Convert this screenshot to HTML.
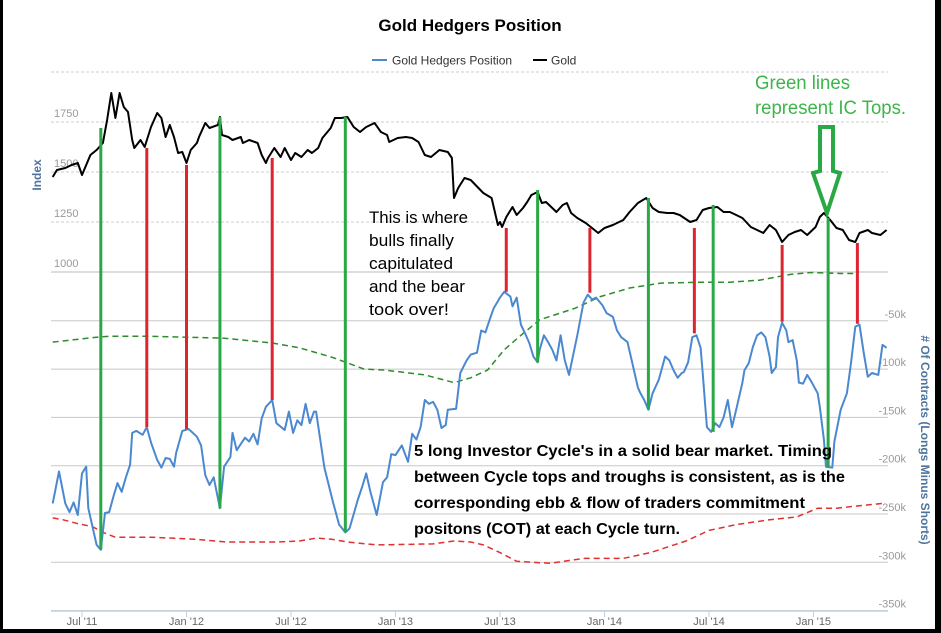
<!DOCTYPE html>
<html><head><meta charset="utf-8">
<style>
html,body{margin:0;padding:0;background:#fff;}
body{width:941px;height:633px;overflow:hidden;position:relative;font-family:"Liberation Sans",sans-serif;}
svg{position:absolute;left:0;top:0;}
</style></head>
<body>
<svg id="chart" width="941" height="633" viewBox="0 0 941 633" xmlns="http://www.w3.org/2000/svg">
  <rect x="0" y="0" width="941" height="633" fill="#fff"/>
  <text x="470" y="31" text-anchor="middle" font-size="17" font-weight="bold" fill="#000">Gold Hedgers Position</text>
  <g>
    <g>
      <line x1="372" y1="60" x2="387" y2="60" stroke="#4a88d0" stroke-width="2"/>
      <text x="392" y="64.5" font-size="12" fill="#333">Gold Hedgers Position</text>
    </g>
    <g>
      <line x1="533" y1="60" x2="547" y2="60" stroke="#000" stroke-width="2"/>
      <text x="551" y="64.5" font-size="12" fill="#333">Gold</text>
    </g>
  </g>
  <g id="grid"></g>
  <g id="axes"></g>
  <g id="series"></g>
  <g id="annot"></g>
  <text transform="translate(41,175) rotate(-90)" text-anchor="middle" font-size="12" font-weight="bold" fill="#4d759e">Index</text>
  <text transform="translate(921,440) rotate(90)" text-anchor="middle" font-size="12" font-weight="bold" fill="#4d759e"># Of Contracts (Longs Minus Shorts)</text>
  <g font-size="17" fill="#000">
    <text x="369" y="223" textLength="99" lengthAdjust="spacingAndGlyphs">This is where</text>
    <text x="369" y="246" textLength="85" lengthAdjust="spacingAndGlyphs">bulls finally</text>
    <text x="369" y="269" textLength="84" lengthAdjust="spacingAndGlyphs">capitulated</text>
    <text x="369" y="292" textLength="96" lengthAdjust="spacingAndGlyphs">and the bear</text>
    <text x="369" y="315" textLength="80" lengthAdjust="spacingAndGlyphs">took over!</text>
  </g>
  <g font-size="16" font-weight="bold" fill="#000">
    <text x="414" y="456" textLength="418" lengthAdjust="spacingAndGlyphs">5 long Investor Cycle's in a solid bear market.  Timing</text>
    <text x="414" y="482" textLength="431" lengthAdjust="spacingAndGlyphs">between Cycle tops and troughs is consistent, as is the</text>
    <text x="414" y="508" textLength="391" lengthAdjust="spacingAndGlyphs">corresponding ebb &amp; flow of traders commitment</text>
    <text x="414" y="534" textLength="266" lengthAdjust="spacingAndGlyphs">positons (COT) at each Cycle turn.</text>
  </g>
  <g font-size="19" fill="#3cb54a">
    <text x="755" y="89" textLength="95" lengthAdjust="spacingAndGlyphs">Green lines</text>
    <text x="755" y="114" textLength="151" lengthAdjust="spacingAndGlyphs">represent IC Tops.</text>
  </g>
  <path d="M820,127 L833,127 L833,171 L840,173 L827,213 L813,173 L820,171 Z" fill="none" stroke="#2aa845" stroke-width="4" stroke-linejoin="miter"/>
  <rect x="0" y="0" width="3" height="633" fill="#000"/>
  <rect x="935" y="0" width="6" height="633" fill="#000"/>
  <rect x="0" y="629" width="941" height="4" fill="#000"/>
</svg>
<script>
// ---- data ----
const hedgeDates = [2011.36,2011.39,2011.40,2011.42,2011.44,2011.46,2011.48,2011.50,2011.52,2011.53,2011.57,2011.59,2011.61,2011.63,2011.65,2011.67,2011.69,2011.71,2011.73,2011.74,2011.76,2011.79,2011.81,2011.83,2011.86,2011.88,2011.90,2011.92,2011.94,2011.95,2011.98,2012.01,2012.05,2012.07,2012.09,2012.11,2012.13,2012.16,2012.18,2012.21,2012.22,2012.24,2012.28,2012.30,2012.32,2012.34,2012.36,2012.38,2012.41,2012.43,2012.47,2012.49,2012.51,2012.53,2012.55,2012.57,2012.59,2012.61,2012.62,2012.66,2012.70,2012.73,2012.76,2012.78,2012.82,2012.84,2012.86,2012.88,2012.91,2012.94,2012.96,2012.98,2013.00,2013.03,2013.06,2013.08,2013.10,2013.12,2013.14,2013.16,2013.18,2013.20,2013.22,2013.24,2013.25,2013.29,2013.31,2013.34,2013.36,2013.39,2013.41,2013.43,2013.45,2013.47,2013.50,2013.52,2013.55,2013.56,2013.58,2013.60,2013.62,2013.64,2013.66,2013.68,2013.69,2013.71,2013.73,2013.75,2013.77,2013.79,2013.81,2013.83,2013.87,2013.89,2013.90,2013.92,2013.94,2013.96,2013.99,2014.01,2014.04,2014.06,2014.08,2014.11,2014.13,2014.16,2014.17,2014.19,2014.21,2014.23,2014.26,2014.29,2014.31,2014.33,2014.35,2014.37,2014.38,2014.40,2014.42,2014.44,2014.46,2014.47,2014.49,2014.51,2014.53,2014.55,2014.57,2014.59,2014.61,2014.63,2014.66,2014.67,2014.69,2014.71,2014.73,2014.75,2014.77,2014.79,2014.80,2014.82,2014.83,2014.85,2014.87,2014.88,2014.90,2014.92,2014.93,2014.95,2014.97,2014.99,2015.02,2015.03,2015.05,2015.06,2015.09,2015.10,2015.13,2015.16,2015.18,2015.20,2015.22,2015.24,2015.26,2015.28,2015.31,2015.33,2015.35];
const hedgeValues = [-239,-206,-217,-239,-248,-238,-251,-208,-201,-244,-282,-287,-249,-248,-232,-218,-227,-212,-199,-166,-164,-168,-160,-176,-194,-202,-192,-193,-201,-187,-164,-162,-170,-179,-210,-220,-212,-244,-201,-191,-166,-184,-171,-175,-167,-178,-151,-139,-132,-156,-163,-144,-166,-153,-158,-136,-156,-144,-144,-202,-237,-261,-269,-265,-235,-222,-208,-227,-251,-217,-212,-188,-189,-179,-196,-167,-173,-160,-132,-136,-134,-142,-161,-158,-142,-141,-104,-91,-85,-83,-60,-62,-49,-37,-26,-20,-25,-35,-26,-54,-63,-73,-87,-93,-80,-65,-72,-80,-91,-65,-91,-106,-65,-42,-31,-23,-28,-26,-34,-42,-46,-60,-67,-72,-91,-119,-124,-132,-142,-125,-111,-87,-91,-101,-109,-104,-103,-93,-67,-65,-78,-104,-160,-165,-156,-160,-150,-132,-160,-142,-114,-101,-94,-77,-65,-62,-67,-87,-104,-98,-67,-52,-60,-72,-70,-91,-114,-115,-106,-113,-125,-139,-173,-201,-202,-175,-142,-125,-93,-56,-54,-83,-108,-104,-106,-75,-78];
const goldDates = [2011.36,2011.38,2011.42,2011.45,2011.48,2011.50,2011.54,2011.57,2011.60,2011.62,2011.64,2011.66,2011.68,2011.70,2011.72,2011.74,2011.75,2011.78,2011.80,2011.83,2011.86,2011.88,2011.90,2011.92,2011.94,2011.96,2011.98,2012.00,2012.02,2012.05,2012.06,2012.09,2012.11,2012.15,2012.16,2012.17,2012.20,2012.22,2012.26,2012.27,2012.30,2012.34,2012.36,2012.38,2012.39,2012.42,2012.45,2012.47,2012.50,2012.52,2012.55,2012.58,2012.60,2012.63,2012.65,2012.69,2012.71,2012.74,2012.77,2012.80,2012.83,2012.86,2012.90,2012.93,2012.96,2012.97,2013.01,2013.05,2013.08,2013.11,2013.14,2013.17,2013.21,2013.25,2013.27,2013.28,2013.30,2013.33,2013.36,2013.42,2013.46,2013.49,2013.50,2013.51,2013.53,2013.56,2013.58,2013.61,2013.63,2013.65,2013.68,2013.70,2013.72,2013.75,2013.77,2013.80,2013.82,2013.84,2013.87,2013.91,2013.94,2013.97,2014.00,2014.04,2014.06,2014.09,2014.12,2014.16,2014.20,2014.23,2014.26,2014.30,2014.33,2014.36,2014.41,2014.44,2014.47,2014.50,2014.54,2014.57,2014.60,2014.63,2014.66,2014.70,2014.73,2014.76,2014.79,2014.82,2014.84,2014.85,2014.88,2014.91,2014.94,2014.97,2015.01,2015.03,2015.05,2015.08,2015.11,2015.14,2015.17,2015.20,2015.22,2015.26,2015.28,2015.32,2015.35];
const goldValues = [1475,1510,1520,1535,1545,1485,1585,1610,1645,1760,1895,1770,1895,1825,1800,1660,1620,1660,1625,1725,1795,1770,1675,1735,1675,1595,1600,1545,1610,1645,1675,1745,1720,1735,1775,1685,1675,1660,1675,1645,1660,1645,1585,1545,1570,1620,1575,1620,1560,1595,1575,1610,1595,1620,1670,1720,1770,1770,1775,1725,1700,1725,1745,1700,1685,1650,1670,1675,1670,1650,1585,1575,1610,1600,1570,1370,1420,1470,1460,1395,1370,1235,1250,1225,1275,1325,1285,1320,1350,1385,1400,1345,1350,1320,1300,1335,1345,1295,1270,1245,1220,1195,1220,1235,1245,1260,1300,1345,1370,1320,1300,1295,1295,1285,1250,1260,1310,1320,1325,1300,1300,1285,1270,1225,1210,1195,1235,1210,1170,1150,1185,1200,1210,1185,1225,1275,1295,1260,1220,1210,1160,1150,1195,1210,1195,1185,1210];
const upperBandDates = [2011.36,2011.57,2011.63,2011.83,2012.00,2012.18,2012.41,2012.54,2012.70,2012.85,2012.95,2013.14,2013.28,2013.36,2013.44,2013.52,2013.60,2013.69,2013.86,2013.98,2014.12,2014.27,2014.46,2014.60,2014.74,2014.89,2014.99,2015.13,2015.19];
const upperBandValues = [-72,-67,-66,-66,-67,-68,-73,-78,-88,-100,-101,-106,-114,-109,-101,-80,-65,-49,-37,-25,-16,-11,-10,-10,-8,-2,0,-1,-1];
const lowerBandDates = [2011.36,2011.41,2011.48,2011.55,2011.60,2011.66,2011.83,2012.03,2012.19,2012.43,2012.54,2012.62,2012.69,2012.77,2012.91,2013.18,2013.28,2013.36,2013.42,2013.50,2013.58,2013.74,2013.90,2014.09,2014.22,2014.39,2014.50,2014.63,2014.79,2014.92,2015.02,2015.11,2015.24,2015.33];
const lowerBandValues = [-254,-256,-260,-263,-269,-274,-274,-276,-279,-279,-278,-275,-276,-279,-282,-281,-278,-279,-282,-290,-299,-301,-296,-296,-290,-278,-267,-261,-256,-253,-244,-244,-241,-239];
const topDates = [2011.59,2012.16,2012.76,2013.68,2014.21,2014.52,2015.07];
const topGold = [1720,1775,1775,1410,1370,1335,1270];
const topHedge = [-287,-244,-269,-93,-142,-165,-202];
const bottomDates = [2011.81,2012.00,2012.41,2013.53,2013.93,2014.43,2014.85,2015.21];
const bottomGold = [1620,1535,1570,1220,1220,1220,1135,1145];
const bottomHedge = [-160,-162,-132,-20,-21,-63,-51,-53];
const xTickLabels = ["Jul '11","Jan '12","Jul '12","Jan '13","Jul '13","Jan '14","Jul '14","Jan '15"];
const xTickDates = [2011.5,2012.0,2012.5,2013.0,2013.5,2014.0,2014.5,2015.0];
const goldTicks = [1000,1250,1500,1750];
const hedgeTickLabels = ["-50k","-100k","-150k","-200k","-250k","-300k","-350k"];
const hedgeTicks = [-50,-100,-150,-200,-250,-300,-350];

// ---- scales ----
const PL = 51, PR = 888;
function xS(t){ return 82 + (t - 2011.5) * 209; }
function yGold(g){ return 272 - (g - 1000) / 5; }
function yHedge(v){ return 272.5 - v * 0.966; }

const NS = "http://www.w3.org/2000/svg";
function mk(tag, attrs, parent){
  const e = document.createElementNS(NS, tag);
  for (const k in attrs) e.setAttribute(k, attrs[k]);
  parent.appendChild(e);
  return e;
}
const grid = document.getElementById('grid');
const axes = document.getElementById('axes');
const series = document.getElementById('series');
const annot = document.getElementById('annot');

[1000,1250,1500,1750,2000].forEach(function(g){
  const ln = mk('line', {x1:PL, x2:PR, y1:yGold(g), y2:yGold(g), stroke: g===1000?'#bbb':'#ccc', 'stroke-width':1, 'stroke-dasharray': g===1000?'none':'3,2'}, grid);
  
  
});
goldTicks.forEach(function(g){
  const t = mk('text', {x:54, y:yGold(g)-5, 'font-size':11, fill:'#999'}, axes);
  t.textContent = String(g);
  
  
});
hedgeTicks.forEach(function(v, i){
  const ln = mk('line', {x1:PL, x2:PR, y1:yHedge(v), y2:yHedge(v), stroke:'#c8c8c8', 'stroke-width':1}, grid);
  
  
  const t = mk('text', {x:906, y:yHedge(v)-3, 'text-anchor':'end', 'font-size':11, fill:'#999'}, axes);
  t.textContent = hedgeTickLabels[i];
  
  
});
const xa = mk('line', {x1:PL, x2:PR, y1:611, y2:611, stroke:'#c0d0e0', 'stroke-width':1.5}, axes);


xTickDates.forEach(function(d, i){
  const tk = mk('line', {x1:xS(d), x2:xS(d), y1:611, y2:617, stroke:'#c0d0e0'}, axes);
  
  
  const t = mk('text', {x:xS(d), y:625, 'text-anchor':'middle', 'font-size':11, fill:'#666'}, axes);
  t.textContent = xTickLabels[i];
  
  
});

function pathFrom(dates, vals, yf){
  return dates.map(function(d, i){ return (i ? 'L' : 'M') + xS(d).toFixed(1) + ',' + yf(vals[i]).toFixed(1); }).join(' ');
}
const ub = mk('path', {d:pathFrom(upperBandDates, upperBandValues, yHedge), fill:'none', stroke:'#2e8b2e', 'stroke-width':1.5, 'stroke-dasharray':'6,4'}, series);


const lb = mk('path', {d:pathFrom(lowerBandDates, lowerBandValues, yHedge), fill:'none', stroke:'#e03030', 'stroke-width':1.5, 'stroke-dasharray':'6,4'}, series);


const gl = mk('path', {d:pathFrom(goldDates, goldValues, yGold), fill:'none', stroke:'#000', 'stroke-width':2, 'stroke-linejoin':'round'}, series);


const hl = mk('path', {d:pathFrom(hedgeDates, hedgeValues, yHedge), fill:'none', stroke:'#4a88d0', 'stroke-width':2, 'stroke-linejoin':'round'}, series);



topDates.forEach(function(d, i){
  const ln = mk('line', {x1:xS(d), x2:xS(d), y1:yGold(topGold[i]), y2:yHedge(topHedge[i]), stroke:'#2aa845', 'stroke-width':3}, annot);
  
  
});
bottomDates.forEach(function(d, i){
  const ln = mk('line', {x1:xS(d), x2:xS(d), y1:yGold(bottomGold[i]), y2:yHedge(bottomHedge[i]), stroke:'#dd2530', 'stroke-width':3}, annot);
  
  
});
</script>
</body></html>
